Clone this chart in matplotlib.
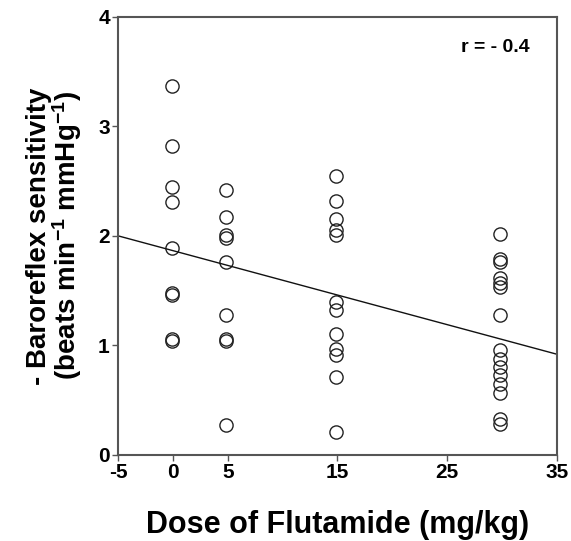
import matplotlib
matplotlib.use("Agg")
import matplotlib.pyplot as plt
import numpy as np

plt.rcParams['font.family'] = ['Liberation Sans', 'DejaVu Sans']
plt.rcParams['font.weight'] = 'bold'
plt.rcParams['mathtext.fontset'] = 'custom'
plt.rcParams['mathtext.rm'] = 'Liberation Sans:bold'
plt.rcParams['mathtext.bf'] = 'Liberation Sans:bold'
plt.rcParams['mathtext.default'] = 'rm'
plt.rcParams['axes.unicode_minus'] = False

# Data
dose_positions = [-0.1, 4.85, 14.9, 29.8]
brs_dose0 = [3.37, 2.82, 2.45, 2.31, 1.89, 1.48, 1.46, 1.06, 1.04]
brs_dose5 = [2.42, 2.17, 2.01, 1.98, 1.76, 1.28, 1.06, 1.04, 0.27]
brs_dose15 = [2.55, 2.32, 2.15, 2.05, 2.01, 1.40, 1.32, 1.10, 0.97, 0.91, 0.71, 0.21]
brs_dose30 = [2.02, 1.79, 1.76, 1.62, 1.57, 1.53, 1.28, 0.96, 0.88, 0.80,
              0.73, 0.65, 0.57, 0.33, 0.28]
fit_intercept = 1.865
fit_slope = -0.027
x_ticks = [-5, 0, 5, 15, 25, 35]
y_ticks = [0, 1, 2, 3, 4]
r_text = "r = - 0.4"

fig = plt.figure(figsize=(5.71, 5.41), dpi=100)
ax = fig.add_axes([0.207, 0.159, 0.768, 0.810])

groups = [brs_dose0, brs_dose5, brs_dose15, brs_dose30]
for xpos, vals in zip(dose_positions, groups):
    ax.plot([xpos] * len(vals), vals, linestyle='none', marker='o',
            markersize=9.5, markerfacecolor='none', markeredgecolor='#222222',
            markeredgewidth=1.0)

xl = np.array([-5, 35])
ax.plot(xl, fit_intercept + fit_slope * xl, color='#111111', lw=1.0)

ax.set_xlim(-5, 35)
ax.set_ylim(0, 4)
ax.set_xticks(x_ticks)
ax.set_yticks(y_ticks)
ax.tick_params(direction='out', length=4, width=1, color='#555555',
               labelsize=15, pad=2)
for lab in ax.get_xticklabels() + ax.get_yticklabels():
    lab.set_fontweight('bold')
for sp in ax.spines.values():
    sp.set_color('#555555')
    sp.set_linewidth(1.5)

ax.set_xlabel("Dose of Flutamide (mg/kg)", fontsize=22, fontweight='bold',
              labelpad=20)
ax.set_ylabel("- Baroreflex sensitivity\n(beats min$^{-1}$ mmHg$^{-1}$)",
              fontsize=20, fontweight='bold', labelpad=10, linespacing=0.95)

ax.text(0.938, 0.929, r_text, transform=ax.transAxes, ha='right', va='center',
        fontsize=14, fontweight='bold')

fig.savefig("out.png", dpi=100)
